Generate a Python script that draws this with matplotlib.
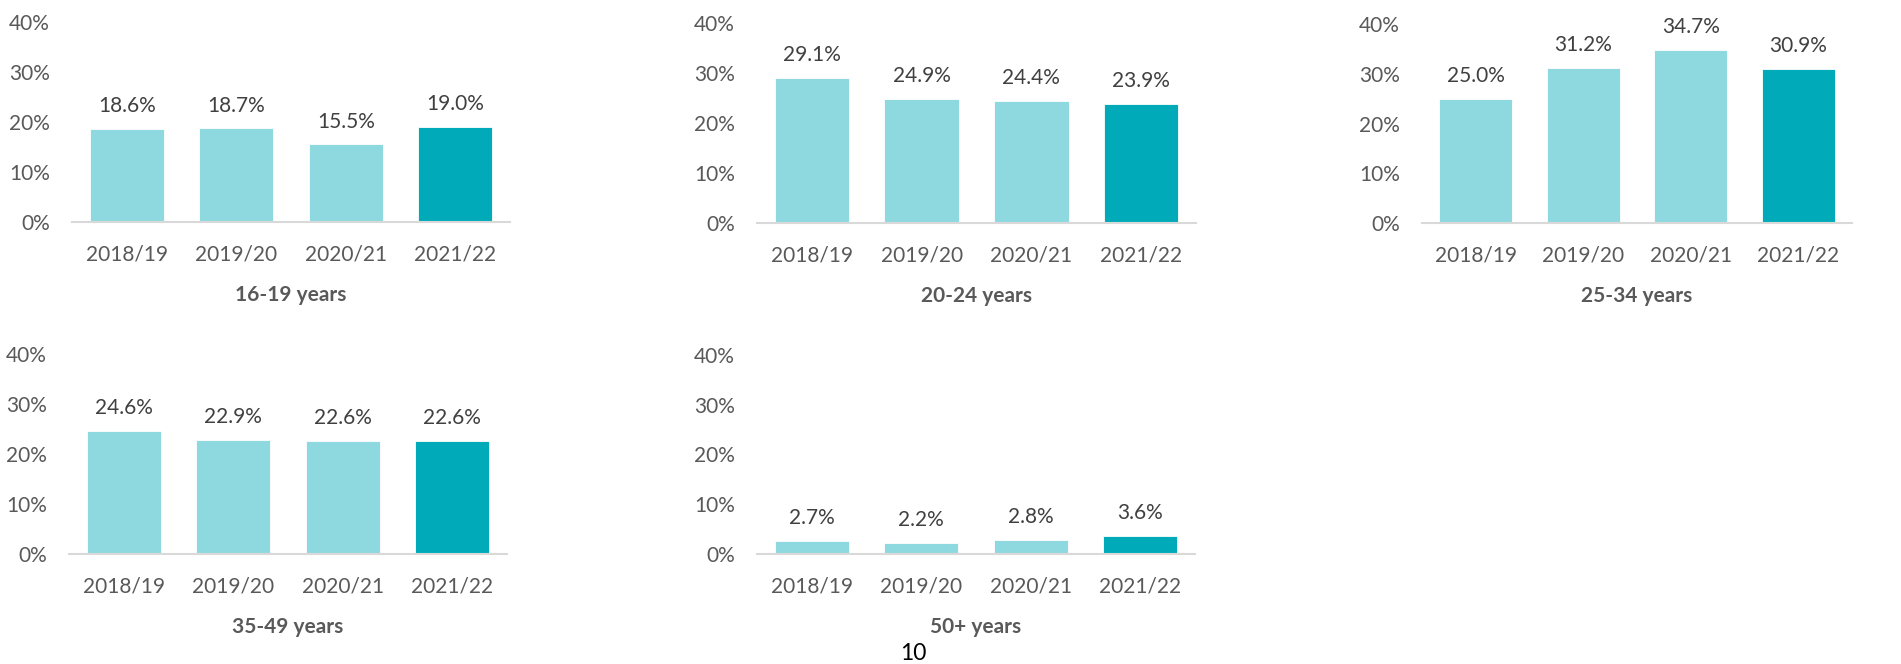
import matplotlib
matplotlib.use("Agg")
import matplotlib.pyplot as plt
from matplotlib.ticker import FuncFormatter

plt.rcParams['font.family'] = ['Lato', 'DejaVu Sans']

# data
years = ["2018/19", "2019/20", "2020/21", "2021/22"]
age_groups = ["16-19 years", "20-24 years", "25-34 years", "35-49 years", "50+ years"]
vals_16_19 = [18.6, 18.7, 15.5, 19.0]
vals_20_24 = [29.1, 24.9, 24.4, 23.9]
vals_25_34 = [25.0, 31.2, 34.7, 30.9]
vals_35_49 = [24.6, 22.9, 22.6, 22.6]
vals_50_plus = [2.7, 2.2, 2.8, 3.6]
all_vals = [vals_16_19, vals_20_24, vals_25_34, vals_35_49, vals_50_plus]

light = "#8ED8E0"
dark = "#00AAB9"
W, H = 1901, 664

# panel boxes in pixels: left, right, bottom(0%), top(40%)
boxes = [
    (72, 510, 222, 22),
    (757, 1196, 223, 23),
    (1422, 1852, 223, 24),
    (69, 507, 554, 354),
    (757, 1195, 554, 355),
]

fig = plt.figure(figsize=(W / 100, H / 100), dpi=100)

for (l, r, b, t), vals, title in zip(boxes, all_vals, age_groups):
    ax = fig.add_axes([l / W, 1 - b / H, (r - l) / W, (b - t) / H])
    cols = [light] * (len(vals) - 1) + [dark]
    x = range(len(years))
    bars = ax.bar(x, vals, width=0.68, color=cols, edgecolor="white", linewidth=0.6)
    ax.set_xlim(-0.5, len(years) - 0.5)
    ax.set_ylim(0, 40)
    ax.set_yticks([0, 10, 20, 30, 40])
    ax.yaxis.set_major_formatter(FuncFormatter(lambda v, p: f"{v:.0f}%"))
    ax.set_xticks(list(x))
    ax.set_xticklabels(years)
    ax.tick_params(axis="y", length=0, pad=16, labelsize=15, labelcolor="#595959")
    ax.tick_params(axis="x", length=0, pad=16, labelsize=15, labelcolor="#595959")
    for s in ["top", "right", "left"]:
        ax.spines[s].set_visible(False)
    ax.spines["bottom"].set_color("#D9D9D9")
    ax.spines["bottom"].set_linewidth(1.5)
    for bar, v in zip(bars, vals):
        ax.annotate(f"{v:.1f}%", (bar.get_x() + bar.get_width() / 2, v),
                    xytext=(0, 16.5), textcoords="offset points",
                    ha="center", va="center", fontsize=15, color="#404040",
                    annotation_clip=False)
    ax.set_xlabel(title, fontsize=15, fontweight="bold", color="#595959", labelpad=15)

fig.text(913 / W, 1 - 653 / H, "10", ha="center", va="center", fontsize=16.5, color="black")

fig.savefig("out.png", dpi=100, facecolor="white")
